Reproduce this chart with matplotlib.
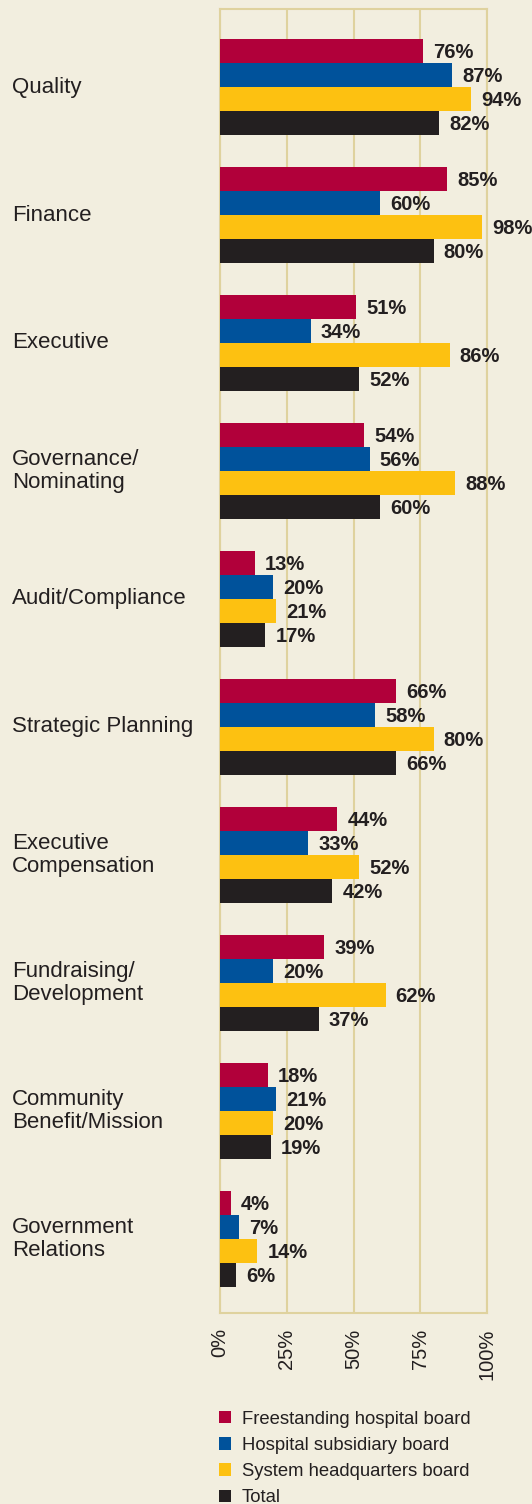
import numpy as np
import matplotlib.pyplot as plt
from matplotlib.patches import Patch

# ---- data ----
categories = ["Quality", "Finance", "Executive", "Governance/\nNominating",
              "Audit/Compliance", "Strategic Planning", "Executive\nCompensation",
              "Fundraising/\nDevelopment", "Community\nBenefit/Mission",
              "Government\nRelations"]
freestanding = [76, 85, 51, 54, 13, 66, 44, 39, 18, 4]
subsidiary = [87, 60, 34, 56, 20, 58, 33, 20, 21, 7]
system_hq = [94, 98, 86, 88, 21, 80, 52, 62, 20, 14]
total = [82, 80, 52, 60, 17, 66, 42, 37, 19, 6]
series_names = ["Freestanding hospital board", "Hospital subsidiary board",
                "System headquarters board", "Total"]
xticks = [0, 25, 50, 75, 100]
xtick_labels = ["0%", "25%", "50%", "75%", "100%"]

# ---- style ----
bg = "#F2EEDF"
grid_col = "#DFD29E"
text_col = "#231F20"
colors = ["#B1003A", "#00529B", "#FDC111", "#231F20"]
plt.rcParams['font.family'] = ['Liberation Sans', 'DejaVu Sans']

fig = plt.figure(figsize=(5.32, 15.04), dpi=100, facecolor=bg)
ax = fig.add_axes([220/532, 191/1504, 267/532, 1304/1504])
ax.set_facecolor(bg)

n = len(categories)
bar_h = 0.1875
y0 = np.arange(n)
all_series = [freestanding, subsidiary, system_hq, total]
for i, (vals, c) in enumerate(zip(all_series, colors)):
    ys = y0 + (i - 1.5) * bar_h
    ax.barh(ys, vals, height=bar_h, color=c, zorder=3)
    for y, v in zip(ys, vals):
        ax.text(v + 3.8, y + 0.01, f"{v}%", va="center", ha="left",
                fontsize=14.5, fontweight="bold", color=text_col, zorder=4)

ax.set_xlim(0, 100)
ax.set_ylim(n - 1 + 0.58, -0.61)
ax.set_xticks(xticks)
ax.set_xticklabels(xtick_labels, rotation=90, fontsize=14.5, color=text_col)
ax.tick_params(axis="x", length=0, pad=11)
ax.set_yticks([])
ax.xaxis.grid(True, color=grid_col, lw=1.5, zorder=0)
for s in ax.spines.values():
    s.set_color(grid_col)
    s.set_linewidth(1.5)

# category labels on the left
for y, cat in zip(y0, categories):
    ax.text(-208/267*100, y, cat, ha="left", va="center", fontsize=16,
            color=text_col, linespacing=1.15, transform=ax.transData)

handles = [Patch(facecolor=c, edgecolor="none") for c in colors]
fig.legend(handles, series_names, loc="upper left",
           bbox_to_anchor=(202/532, 1 - 1394/1504), frameon=False,
           fontsize=13.3, handlelength=0.65, handleheight=0.65,
           handletextpad=0.6, labelspacing=0.5, labelcolor=text_col)

fig.savefig("out.png", dpi=100, facecolor=bg)
